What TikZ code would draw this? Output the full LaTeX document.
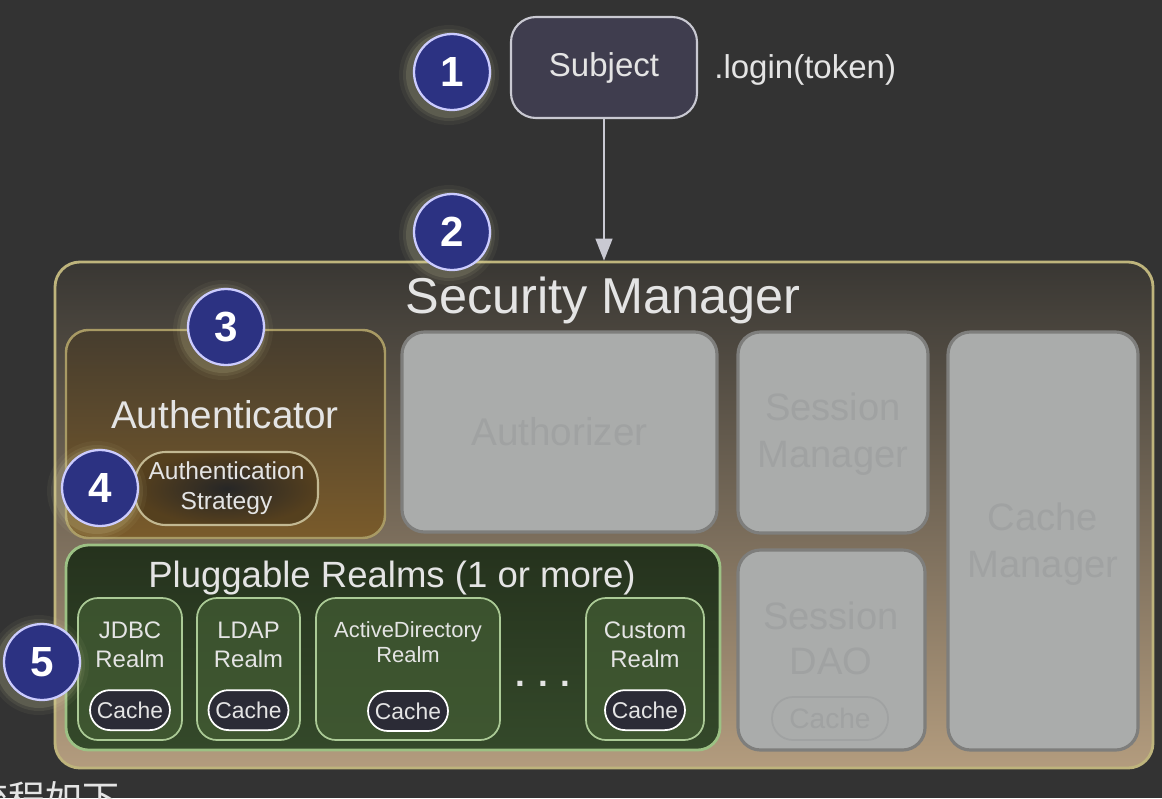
\documentclass[tikz,border=0pt]{standalone}
\usepackage{fontspec}
\setmainfont{Liberation Sans}
\newfontfamily\cjkfont{Noto Sans CJK SC}
\usetikzlibrary{fit,calc,arrows.meta}

\definecolor{bgdark}{HTML}{333333}
\definecolor{navy}{HTML}{2C3282}
\definecolor{subjfill}{HTML}{3F3D4E}
\definecolor{linegray}{HTML}{C9C9D2}
\definecolor{smtop}{HTML}{393733}
\definecolor{smbot}{HTML}{B39C7E}
\definecolor{smline}{HTML}{BEB47C}
\definecolor{authtop}{HTML}{463D2E}
\definecolor{authbot}{HTML}{7A5B2B}
\definecolor{authline}{HTML}{A89A64}
\definecolor{fadefill}{HTML}{AAACAB}
\definecolor{fadeline}{HTML}{7E7E7C}
\definecolor{fadetext}{HTML}{A0A2A2}
\definecolor{realmtop}{HTML}{25321D}
\definecolor{realmbot}{HTML}{34492A}
\definecolor{realmline}{HTML}{9CC184}
\definecolor{rboxtop}{HTML}{3B522E}
\definecolor{rboxmid}{HTML}{5D7849}
\definecolor{rboxbot}{HTML}{3E5630}
\definecolor{cachefill}{HTML}{2B2B36}
\definecolor{txtcol}{HTML}{E4E4E4}
\definecolor{glowcol}{HTML}{E8E6B0}

\tikzset{
  box/.style={inner sep=0pt, rounded corners=0.5cm},
  subjbox/.style={box, fill=subjfill, draw=linegray, line width=1.2pt},
  smbox/.style={box, top color=smtop, bottom color=smbot, draw=smline, line width=1.6pt},
  authbox/.style={box, rounded corners=0.45cm, top color=authtop, bottom color=authbot, draw=authline, line width=1.4pt},
  fadebox/.style={box, rounded corners=0.45cm, fill=fadefill, draw=fadeline, line width=1.8pt},
  realmsbox/.style={box, rounded corners=0.45cm, top color=realmtop, bottom color=realmbot, draw=realmline, line width=1.6pt},
  rbox/.style={box, rounded corners=0.4cm, top color=rboxtop, middle color=rboxmid, bottom color=rboxbot, draw=realmline!85!white, line width=1pt},
  pill/.style={box, rounded corners=0.4cm, fill=cachefill, draw=white!85, line width=1pt},
  txt/.style={text=txtcol, align=center, inner sep=0pt},
  fadetxt/.style={text=fadetext, align=center, inner sep=0pt},
  num/.style={circle, minimum size=1.52cm, inner sep=0pt, fill=navy, draw=white!80!blue, line width=1.3pt,
    text=white, font=\bfseries\fontsize{24}{28}\selectfont}
}

\begin{document}
\begin{tikzpicture}[x=0.02cm, y=-0.02cm]
\fill[bgdark] (0,0) rectangle (1162,798);
\useasboundingbox (0,0) rectangle (1162,798);

% subject and call
\node[subjbox, fit={(511,17) (697,118)}] (subject) {};
\node[txt, font=\fontsize{18.8}{22}\selectfont] (subjtxt) at (subject.center) {Subject};
\node[txt, font=\fontsize{18.8}{22}\selectfont, anchor=west] (login) at (714,70) {.login(token)};

% security manager
\node[smbox, fit={(55,262) (1153,768)}] (secmgr) {};
\node[txt, font=\fontsize{28.7}{32}\selectfont] (smtitle) at (603,300) {Security Manager};
\draw[linegray, line width=0.8pt, -{Triangle[width=0.34cm,length=0.44cm]}] (subject.south) -- (secmgr.north);

% authenticator
\node[authbox, fit={(66,330) (385,538)}] (auth) {};
\node[txt, font=\fontsize{22}{26}\selectfont] (authtxt) at (225,415) {Authenticator};
\node[box, rounded corners=0.62cm, inner color=black!85, outer color=authbot!70!black, draw=authline!70!white, line width=1.2pt, fit={(135,452) (318,525)}] (strategy) {};
\node[txt, font=\fontsize{14}{17}\selectfont] (strattxt) at (strategy.center) {Authentication\\Strategy};

% faded components
\node[fadebox, fit={(402,332) (717,532)}] (authz) {};
\node[fadetxt, font=\fontsize{22}{26}\selectfont] at (authz.center) {Authorizer};
\node[fadebox, fit={(738,332) (928,533)}] (sessmgr) {};
\node[fadetxt, font=\fontsize{21.7}{27}\selectfont] at (833,434) {Session\\Manager};
\node[fadebox, fit={(738,550) (925,750)}] (sessdao) {};
\node[fadetxt, font=\fontsize{21.7}{25.5}\selectfont] at (831,638) {Session\\DAO};
\node[box, rounded corners=0.42cm, draw=fadetext, line width=1pt, fit={(772,697) (888,740)}] (daocache) {};
\node[fadetxt, font=\fontsize{16}{19}\selectfont] at (daocache.center) {Cache};
\node[fadebox, fit={(948,332) (1138,750)}] (cachemgr) {};
\node[fadetxt, font=\fontsize{21.7}{27}\selectfont] at (1043,544) {Cache\\Manager};

% realms
\node[realmsbox, fit={(66,545) (720,750)}] (realms) {};
\node[txt, font=\fontsize{20.8}{24}\selectfont] (realmstxt) at (392,578) {Pluggable Realms (1 or more)};
\foreach \nm/\xa/\xb/\lbl in {jdbc/78/182/{JDBC\\Realm}, ldap/197/300/{LDAP\\Realm}, custom/586/704/{Custom\\Realm}}{
  \node[rbox, fit={(\xa,598) (\xb,740)}] (\nm) {};
  \node[txt, font=\fontsize{13.6}{16.5}\selectfont] at ($(\nm.north)+(0,48)$) {\lbl};
  \node[pill, minimum width=1.6cm, minimum height=0.8cm] (\nm cache) at ($(\nm.north)+(0,113)$) {};
  \node[txt, font=\fontsize{13}{15}\selectfont] at (\nm cache) {Cache};
}
\node[rbox, fit={(316,598) (500,740)}] (ad) {};
\node[txt, font=\fontsize{12.5}{14.5}\selectfont] at (408,642) {ActiveDirectory\\Realm};
\node[pill, minimum width=1.6cm, minimum height=0.8cm] (adcache) at (408,711) {};
\node[txt, font=\fontsize{13}{15}\selectfont] at (adcache) {Cache};
\node[txt, font=\bfseries\fontsize{20}{24}\selectfont] (dots) at (543,684) {. . .};

% numbered markers
\foreach \n/\cx/\cy in {1/452/72, 2/452/232, 3/226/327, 4/100/488, 5/42/662}{
  \foreach \r/\op in {1.0/0.05, 0.92/0.08, 0.86/0.12}
    \fill[glowcol, opacity=\op] (\cx-3,\cy+3) circle[radius=\r cm];
  \node[num] (n\n) at (\cx,\cy) {\n};
}

% caption below
\node[txtcol, font=\cjkfont\fontsize{21}{24}\selectfont, anchor=north west, inner sep=0pt] (caption) at (-29,781) {流程如下};
\end{tikzpicture}
\end{document}
